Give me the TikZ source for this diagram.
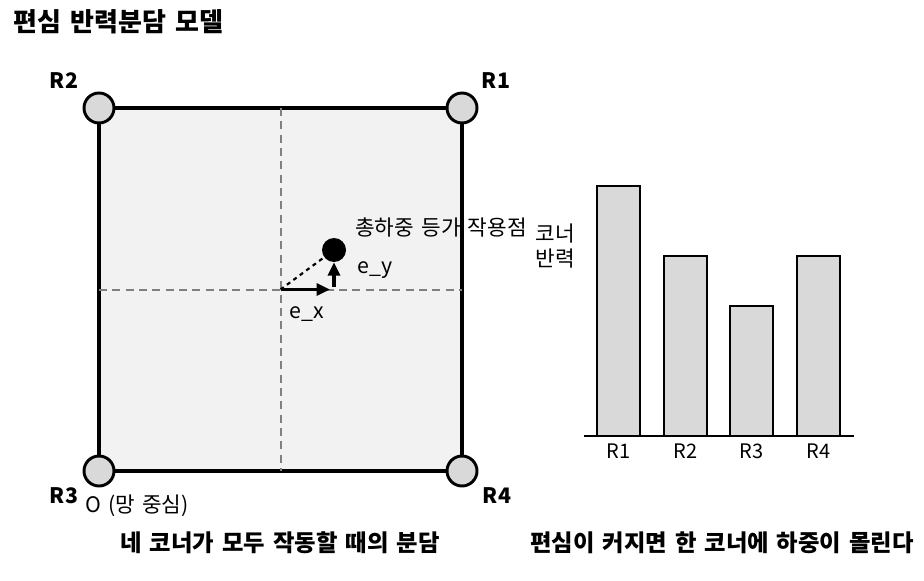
\documentclass[tikz,border=0pt]{standalone}
\usepackage{fontspec}
\setmainfont[WordSpace=1.5]{Noto Sans CJK KR}
\usetikzlibrary{arrows.meta}

\tikzset{
    post/.style={circle, draw, line width=2.2pt, fill=PostGray, minimum size=22.5pt, inner sep=0pt},
    cornerlabel/.style={font=\fontsize{16}{18}\selectfont\bfseries},
    plain/.style={font=\fontsize{16}{19}\selectfont},
    caption/.style={font=\fontsize{17.5}{20}\selectfont\bfseries},
    guide/.style={GuideGray, line width=1.5pt, dash pattern=on 6pt off 4pt},
    bar/.style={draw, line width=1.8pt, fill=PostGray},
    push/.style={line width=2.4pt, -{Triangle[length=10pt, width=9pt]}},
}

\begin{document}
\begin{tikzpicture}[x=0.75pt, y=-0.75pt]
    \definecolor{PlateGray}{HTML}{f2f2f2}
    \definecolor{PostGray}{HTML}{d9d9d9}
    \definecolor{GuideGray}{HTML}{808080}
    \useasboundingbox (0,0) rectangle (924,581);
    \node[anchor=west, font=\fontsize{19.5}{23}\selectfont\bfseries] (title) at (9,22) {편심 반력분담 모델};
    % plate
    \coordinate (A) at (462,108);
    \coordinate (B) at (99,108);
    \coordinate (C) at (99,471);
    \coordinate (D) at (462,471);
    \coordinate (O) at (280.5,289.5);
    \draw[fill=PlateGray, line width=2.7pt] (A) -- (B) -- (C) -- (D) -- cycle;
    \draw[guide] (280.5,108) coordinate (top) -- (280.5,471) coordinate (bottom);
    \draw[guide] (99,289.5) coordinate (left) -- (462,289.5) coordinate (right);
    \node[post] (R1) at (A) {};
    \node[post] (R2) at (B) {};
    \node[post] (R3) at (C) {};
    \node[post] (R4) at (D) {};
    \node[cornerlabel] (labelR1) at (496,81) {R1};
    \node[cornerlabel] (labelR2) at (64,81) {R2};
    \node[cornerlabel] (labelR3) at (64,496) {R3};
    \node[cornerlabel] (labelR4) at (497,496) {R4};
    \node[plain] (origin) at (137,506) {O (망 중심)};
    % eccentric load
    \node[circle, fill, minimum size=18pt, inner sep=0pt] (P) at (334,250) {};
    \coordinate (X) at (330,289.5);
    \coordinate (Y) at (334,287);
    \draw[dashed, line width=1.6pt] (O) -- (P);
    \draw[push] (O) -- (X);
    \draw[push] (Y) -- (P.south);
    \node[plain] (ex) at (307,314) {e\_x};
    \node[plain] (ey) at (375,270) {e\_y};
    \node[plain] (load) at (441,227) {총하중 등가 작용점};
    % reactions
    \node[plain, align=center] (axis) at (555,246) {코너\\반력};
    \foreach \px/\py/\name in {597/186/R1, 664/256/R2, 730/306/R3, 797/256/R4}{
        \draw[bar] (\px,436) rectangle (\px+43,\py);
        \node[font=\fontsize{15}{18}\selectfont] (bar\name) at (\px+21.5,451) {\name};
    }
    \draw[line width=2.2pt] (584,436) coordinate (base west) -- (854,436) coordinate (base east);
    \node[caption] (leftcap) at (280,543) {네 코너가 모두 작동할 때의 분담};
    \node[caption] (rightcap) at (722,543) {편심이 커지면 한 코너에 하중이 몰린다};
\end{tikzpicture}
\end{document}
